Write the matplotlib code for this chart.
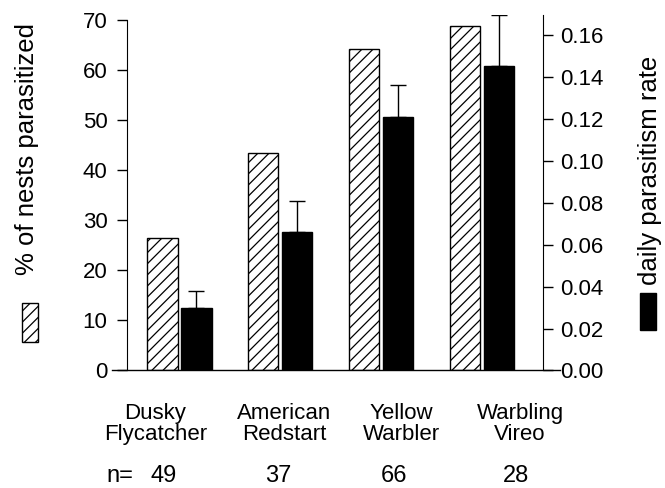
import matplotlib
matplotlib.use('Agg')
import matplotlib.pyplot as plt
import matplotlib.transforms as mtransforms
from matplotlib.patches import Rectangle
import numpy as np

plt.rcParams['font.family'] = ['Liberation Sans', 'DejaVu Sans']
plt.rcParams['hatch.linewidth'] = 0.9

# datos
species = ["Dusky\nFlycatcher", "American\nRedstart", "Yellow\nWarbler", "Warbling\nVireo"]
sample_n = [49, 37, 66, 28]
pct_parasitized = [26.5, 43.5, 64.3, 68.7]
daily_rate = [0.030, 0.066, 0.121, 0.145]
daily_rate_se = [0.0077, 0.0148, 0.0153, 0.0244]

# posiciones de texto bajo el eje (no son datos)
label_x = [-0.24, 1.04, 2.20, 3.38]
n_x = [-0.16, 0.98, 2.13, 3.34]

fig = plt.figure(figsize=(6.65, 4.88), dpi=100)
ax = fig.add_axes([0.191, 0.2408, 0.6256, 0.7285])
ax2 = ax.twinx()

x = np.arange(len(species))
w = 0.30
off = 0.168

ax.bar(x - off, pct_parasitized, w, color='white', edgecolor='black',
       hatch='///', linewidth=1.0, zorder=2)
ax2.bar(x + off, daily_rate, w, color='black', edgecolor='black',
        linewidth=1.0, zorder=2)
ax2.errorbar(x + off, daily_rate, yerr=[np.zeros(len(daily_rate)), daily_rate_se],
             fmt='none', ecolor='black', elinewidth=1.0, capsize=6, capthick=1.0)

ax.set_xlim(-0.521, 3.609)
ax.set_ylim(0, 71.0)
ax2.set_ylim(0, 0.1695)

ax.set_yticks(range(0, 71, 10))
ax2.set_yticks(np.arange(0, 0.161, 0.02))
ax2.set_yticklabels(["%.2f" % v for v in np.arange(0, 0.161, 0.02)])

for a in (ax, ax2):
    a.spines['top'].set_visible(False)
    a.spines['bottom'].set_visible(False)
    a.set_xticks([])
ax.spines['right'].set_visible(False)
ax2.spines['left'].set_visible(False)
ax.spines['left'].set_bounds(0, 70)

ax.tick_params(axis='y', direction='out', length=7, width=1, pad=7, labelsize=16)
ax2.tick_params(axis='y', direction='out', length=7, width=1, pad=5, labelsize=16)

# linea base
ax.plot([-0.036, 1.041], [0, 0], color='black', linewidth=1.0,
        transform=ax.get_yaxis_transform(), clip_on=False, zorder=3)

# nombres de especies y tamaños de muestra
trans = mtransforms.blended_transform_factory(ax.transData, fig.transFigure)
for xi, name in zip(label_x, species):
    ax.text(xi, 0.131, name, transform=trans, ha='center', va='center',
            fontsize=16, linespacing=1.0)
for xi, n in zip(n_x, sample_n):
    ax.text(xi, 0.0246, str(n), transform=trans, ha='center', va='center', fontsize=17)
fig.text(120 / 665, 0.0246, "n=", ha='center', va='center', fontsize=17)

# etiquetas de ejes con muestra de leyenda
fig.text(27 / 665, 1 - 149 / 488, "% of nests parasitized", rotation=90,
         ha='center', va='center', fontsize=18.5)
fig.text(650 / 665, 1 - 170 / 488, "daily parasitism rate", rotation=90,
         ha='center', va='center', fontsize=18.5)
fig.patches.append(Rectangle((22 / 665, 1 - 342 / 488), 16 / 665, 39 / 488,
                             transform=fig.transFigure, facecolor='white',
                             edgecolor='black', hatch='///', linewidth=1.0))
fig.patches.append(Rectangle((640 / 665, 1 - 330 / 488), 16 / 665, 37 / 488,
                             transform=fig.transFigure, facecolor='black',
                             edgecolor='black', linewidth=1.0))

plt.savefig("out.png", dpi=100)
